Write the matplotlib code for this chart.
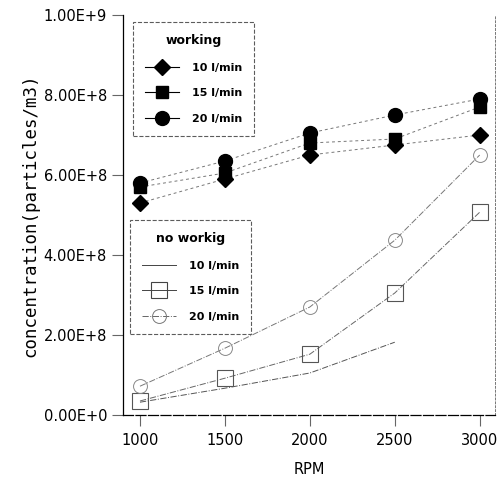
import numpy as np
import matplotlib.pyplot as plt
from matplotlib.lines import Line2D

rpm = [1000, 1500, 2000, 2500, 3000]

# working
w10 = [5.3e8, 5.9e8, 6.5e8, 6.75e8, 7.0e8]
w15 = [5.7e8, 6.05e8, 6.8e8, 6.9e8, 7.7e8]
w20 = [5.8e8, 6.35e8, 7.05e8, 7.5e8, 7.9e8]

# no working
n10 = [3.2e7, 6.7e7, 1.05e8, 1.82e8, np.nan]
n15 = [3.5e7, 9.2e7, 1.52e8, 3.05e8, 5.07e8]
n20 = [7.2e7, 1.67e8, 2.7e8, 4.37e8, 6.5e8]

ytick_vals = [0, 2e8, 4e8, 6e8, 8e8, 1e9]
ytick_labels = ["0.00E+0", "2.00E+8", "4.00E+8", "6.00E+8", "8.00E+8", "1.00E+9"]

fig = plt.figure(figsize=(5, 4.83), dpi=100)
ax = fig.add_axes([123 / 500, 1 - 415 / 483, 372 / 500, 400 / 483])

wl = dict(color="#777777", ls=(0, (3, 3)), lw=0.7)
ax.plot(rpm, w10, marker="D", ms=8, mfc="black", mec="black", **wl)
ax.plot(rpm, w15, marker="s", ms=9, mfc="black", mec="black", **wl)
ax.plot(rpm, w20, marker="o", ms=10, mfc="black", mec="black", **wl)

ax.plot(rpm, n10, color="#555555", ls="-.", lw=0.7)
ax.plot(rpm, n15, color="#666666", ls="-.", lw=0.7, marker="s", ms=11, mfc="none", mec="#555555", mew=0.8)
ax.plot(rpm, n20, color="#777777", ls="-.", lw=0.7, marker="o", ms=10, mfc="none", mec="#888888", mew=0.7)

ax.set_xlim(900, 3090)
ax.set_ylim(0, 1e9)
ax.set_xticks(rpm)
ax.set_xticklabels([str(r) for r in rpm], fontsize=10.5)
ax.set_yticks(ytick_vals)
ax.set_yticklabels(ytick_labels, fontsize=10.5)
ax.tick_params(axis="both", direction="out", length=8, width=0.8, color="#666666")
ax.tick_params(axis="x", pad=5)

ax.spines["top"].set_visible(False)
ax.spines["left"].set_linestyle((0, (6, 1)))
ax.spines["left"].set_linewidth(0.9)
ax.spines["bottom"].set_linestyle((0, (8, 2)))
ax.spines["bottom"].set_linewidth(0.9)
ax.spines["right"].set_linestyle((0, (2, 2)))
ax.spines["right"].set_linewidth(0.7)
ax.spines["right"].set_color("#777777")

ax.set_xlabel("RPM", fontsize=10.5, labelpad=10)
ax.set_ylabel("concentration(particles/m3)", fontsize=12.5, family="DejaVu Sans Mono", labelpad=3)

h_work = [
    Line2D([], [], color="black", lw=0.8, marker="D", ms=8, mfc="black"),
    Line2D([], [], color="black", lw=0.8, marker="s", ms=9, mfc="black"),
    Line2D([], [], color="black", lw=0.8, marker="o", ms=10, mfc="black"),
]
h_nowork = [
    Line2D([], [], color="#444444", lw=0.7),
    Line2D([], [], color="#444444", lw=0.7, marker="s", ms=11, mfc="none", mec="#444444", mew=0.8),
    Line2D([], [], color="#666666", ls="-.", lw=0.7, marker="o", ms=10, mfc="none", mec="#777777", mew=0.7),
]
labels = ["10 l/min", "15 l/min", "20 l/min"]

leg_kw = dict(loc="upper left", fancybox=False, edgecolor="#333333",
              prop={"weight": "bold", "size": 8}, title_fontproperties={"weight": "bold", "size": 9},
              handlelength=3.0, handletextpad=1.2, labelspacing=1.4, borderpad=1.1, borderaxespad=0)

leg1 = ax.legend(h_work, labels, title="working", bbox_to_anchor=(0.027, 0.983), **leg_kw)
leg1.get_frame().set_linestyle("--")
leg1.get_frame().set_linewidth(0.8)
ax.add_artist(leg1)

leg2 = ax.legend(h_nowork, labels, title="no workig", bbox_to_anchor=(0.019, 0.4875), **leg_kw)
leg2.get_frame().set_linestyle("--")
leg2.get_frame().set_linewidth(0.8)

plt.savefig("out.png")
